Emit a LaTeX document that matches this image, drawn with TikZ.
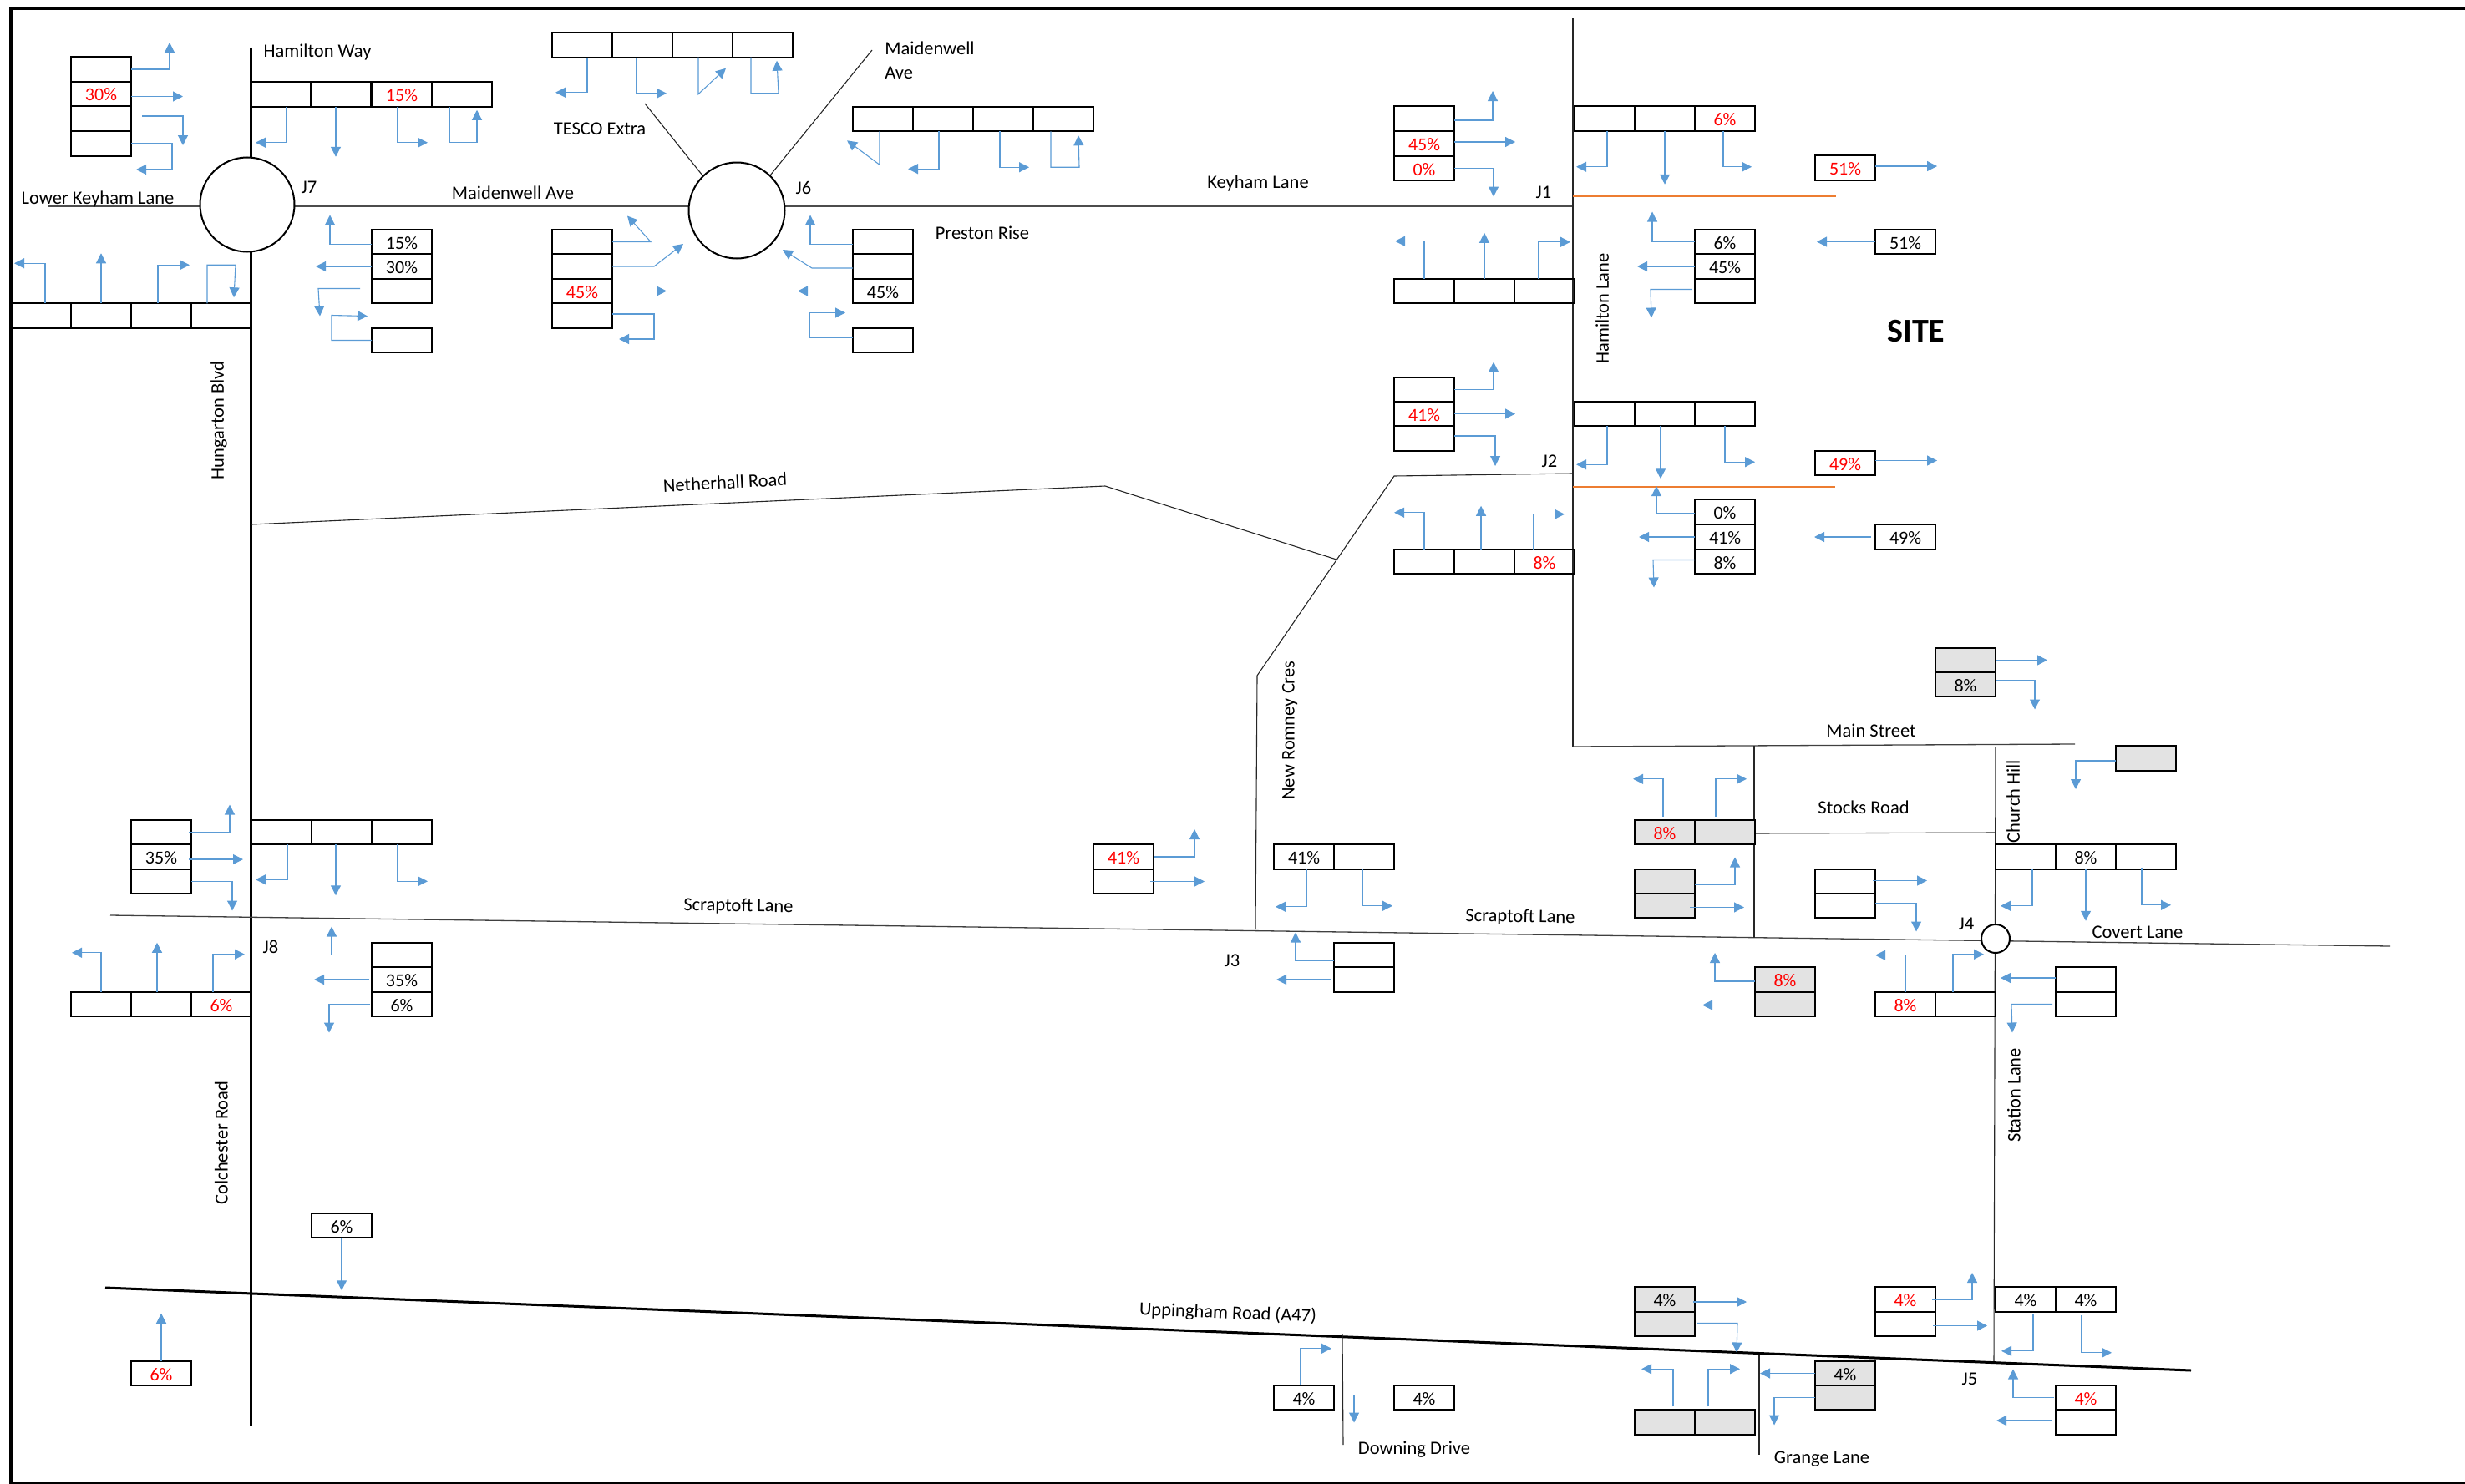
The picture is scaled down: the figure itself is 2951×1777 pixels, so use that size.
\documentclass[tikz,border=0pt]{standalone}
\usepackage{fontspec}
\setmainfont{Carlito}
\usetikzlibrary{arrows.meta}
\definecolor{flowblue}{HTML}{5B9BD5}
\definecolor{siteorange}{HTML}{ED7D31}
\definecolor{cellgrey}{HTML}{E3E3E3}
\definecolor{pctred}{HTML}{FF0000}
\tikzset{
  cell/.style={draw=black, line width=2.4pt, minimum width=72pt, minimum height=29.5pt, inner sep=0pt, outer sep=0pt, text height=17pt, text depth=0pt},
  cellg/.style={cell, fill=cellgrey},
  red/.style={text=pctred},
  flow/.style={draw=flowblue, line width=1.1pt, -{Triangle[length=12pt, width=12pt]}},
  road/.style={draw=black!85, line width=1.1pt},
  mainroad/.style={draw=black, line width=3pt},
  lbl/.style={text=black, inner sep=0pt, yshift=-1.5pt, font=\fontsize{22.5}{29}\selectfont},
  junction/.style={circle, draw=black, line width=2pt, fill=white, inner sep=0pt}
}
\begin{document}
\begin{tikzpicture}[x=1pt, y=-1pt, line cap=butt, line join=miter, every node/.append style={font=\fontsize{22}{29}\selectfont}]
  \useasboundingbox (0,0) rectangle (2951,1777);

  % Frame
  \coordinate (frameb) at (13,1777);
  \coordinate (framec) at (13,10);
  \coordinate (framer) at (2951,10);
  \coordinate (bottoml) at (13,1776);
  \coordinate (bottomr) at (2951,1776);
  \draw[line width=4pt] (frameb) -- (framec) -- (framer);
  \draw[line width=2pt] (bottoml) -- (bottomr);

  % Roads
  \draw[road, draw=black!70, line width=1.5pt] (57,247) -- (1883,247);
  \draw[mainroad] (300,57) -- (300,1707);
  \draw[road] (1883,22) -- (1883,894);
  \draw[road] (301,628) -- (1323,582) -- (1600,670);
  \draw[road] (1882,567) -- (1669,570) -- (1505,809) -- (1503,1113);
  \draw[road, draw=black!75, line width=1.3pt] (132,1096) -- (2861,1133);
  \draw[road, draw=black!75, line width=1.3pt] (1883,894) -- (2484,891);
  \draw[road] (2100,893) -- (2100,1123);
  \draw[road] (2101,998) -- (2389,997);
  \draw[road] (2389,895) -- (2387,1632);
  \draw[mainroad] (126,1542) -- (2623,1641);
  \draw[road] (1607,1597) -- (1608,1730);
  \draw[road] (2106,1622) -- (2106,1742);
  \draw[road] (772,124) -- (841,210);
  \draw[road] (922,210) -- (1044,60);
  \draw[siteorange, line width=2.8pt] (1883,235) -- (2198,235);
  \draw[siteorange, line width=2.8pt] (1883,583) -- (2197,583);

  % Junctions
  \node[junction, minimum size=113pt] (jseven) at (296,245) {};
  \node[junction, minimum size=115pt] (jsix) at (882,252) {};
  \node[junction, minimum size=34pt] (jfour) at (2389,1124) {};

  % Road names
  \node[lbl] (hamiltonway) at (380,61) {Hamilton Way};
  \node[lbl] (tescoextra) at (718,153) {TESCO Extra};
  \node[lbl, align=left] (maidenwelltop) at (1113,71) {Maidenwell\\Ave};
  \node[lbl] (jsevenlbl) at (370,223) {J7};
  \node[lbl] (jsixlbl) at (962,223) {J6};
  \node[lbl] (maidenwellave) at (614,229) {Maidenwell Ave};
  \node[lbl] (lowerkeyham) at (117,237) {Lower Keyham Lane};
  \node[lbl] (keyhamlane) at (1506,218) {Keyham Lane};
  \node[lbl] (prestonrise) at (1176,277) {Preston Rise};
  \node[lbl, rotate=90] (hungarton) at (262,502) {Hungarton Blvd};
  \node[lbl, rotate=3] (netherhall) at (868,576) {Netherhall Road};
  \node[lbl, rotate=90] (hamiltonlane) at (1918,368) {Hamilton Lane};
  \node[lbl, font=\fontsize{40}{42}\selectfont\bfseries] (site) at (2294,395) {SITE};
  \node[lbl] (jonelbl) at (1848,229) {J1};
  \node[lbl] (jtwolbl) at (1855,551) {J2};
  \node[lbl] (mainstreet) at (2240,873) {Main Street};
  \node[lbl] (stocksroad) at (2231,965) {Stocks Road};
  \node[lbl, rotate=90] (churchhill) at (2410,958) {Church Hill};
  \node[lbl] (covertlane) at (2559,1115) {Covert Lane};
  \node[lbl] (jfourlbl) at (2354,1105) {J4};
  \node[lbl, rotate=-1] (scraptoftw) at (884,1084) {Scraptoft Lane};
  \node[lbl, rotate=-1] (scraptofte) at (1820,1097) {Scraptoft Lane};
  \node[lbl] (jeightlbl) at (324,1132) {J8};
  \node[lbl] (jthreelbl) at (1475,1149) {J3};
  \node[lbl, rotate=90] (newromney) at (1544,873) {New Romney Cres};
  \node[lbl, rotate=90] (colchester) at (265,1367) {Colchester Road};
  \node[lbl, rotate=90] (stationlane) at (2411,1310) {Station Lane};
  \node[lbl, rotate=-2.3] (uppingham) at (1470,1571) {Uppingham Road (A47)};
  \node[lbl] (downing) at (1693,1734) {Downing Drive};
  \node[lbl] (grangelane) at (2181,1746) {Grange Lane};
  \node[lbl] (jfivelbl) at (2358,1650) {J5};

  % J7 cells
  \node[cell] (j7wa) at (121,83) {};
  \node[cell, red] (j7wb) at (121,112.5) {30\%};
  \node[cell] (j7wc) at (121,142) {};
  \node[cell] (j7wd) at (121,172) {};
  \node[cell] (j7na) at (336,113) {};
  \node[cell] (j7nb) at (408,113) {};
  \node[cell, red] (j7nc) at (481,113) {15\%};
  \node[cell] (j7nd) at (553,113) {};
  \node[cell] (j7ea) at (481,289.5) {15\%};
  \node[cell] (j7eb) at (481,319) {30\%};
  \node[cell] (j7ec) at (481,348.5) {};
  \node[cell] (j7ed) at (481,407.5) {};
  \node[cell] (j7sa) at (49,378) {};
  \node[cell] (j7sb) at (121,378) {};
  \node[cell] (j7sc) at (193,378) {};
  \node[cell] (j7sd) at (265,378) {};

  % J6 cells
  \node[cell] (j6ta) at (697,54) {};
  \node[cell] (j6tb) at (769,54) {};
  \node[cell] (j6tc) at (841,54) {};
  \node[cell] (j6td) at (913,54) {};
  \node[cell] (j6na) at (1057,142.5) {};
  \node[cell] (j6nb) at (1129,142.5) {};
  \node[cell] (j6nc) at (1201,142.5) {};
  \node[cell] (j6nd) at (1273,142.5) {};
  \node[cell] (j6ea) at (1057,289.5) {};
  \node[cell] (j6eb) at (1057,319) {};
  \node[cell] (j6ec) at (1057,348.5) {45\%};
  \node[cell] (j6ed) at (1057,407.5) {};
  \node[cell] (j6wa) at (697,289.5) {};
  \node[cell] (j6wb) at (697,319) {};
  \node[cell, red] (j6wc) at (697,348.5) {45\%};
  \node[cell] (j6wd) at (697,378) {};

  % J1 cells
  \node[cell] (j1wa) at (1705,142) {};
  \node[cell, red] (j1wb) at (1705,172) {45\%};
  \node[cell, red] (j1wc) at (1705,201.5) {0\%};
  \node[cell] (j1na) at (1921,142) {};
  \node[cell] (j1nb) at (1993,142) {};
  \node[cell, red] (j1nc) at (2065,142) {6\%};
  \node[cell, red] (j1out) at (2209,201) {51\%};
  \node[cell] (j1sa) at (1705,348.5) {};
  \node[cell] (j1sb) at (1777,348.5) {};
  \node[cell] (j1sc) at (1849,348.5) {};
  \node[cell] (j1ea) at (2065,289.5) {6\%};
  \node[cell] (j1eb) at (2065,319) {45\%};
  \node[cell] (j1ec) at (2065,348.5) {};
  \node[cell] (j1in) at (2281,289.5) {51\%};

  % J2 cells
  \node[cell] (j2wa) at (1705,466.5) {};
  \node[cell, red] (j2wb) at (1705,495.5) {41\%};
  \node[cell] (j2wc) at (1705,525) {};
  \node[cell] (j2na) at (1921,495.5) {};
  \node[cell] (j2nb) at (1993,495.5) {};
  \node[cell] (j2nc) at (2065,495.5) {};
  \node[cell, red] (j2out) at (2209,554.5) {49\%};
  \node[cell] (j2ea) at (2065,613) {0\%};
  \node[cell] (j2eb) at (2065,643) {41\%};
  \node[cell] (j2ec) at (2065,672.5) {8\%};
  \node[cell] (j2in) at (2281,643) {49\%};
  \node[cell] (j2sa) at (1705,672.5) {};
  \node[cell] (j2sb) at (1777,672.5) {};
  \node[cell, red] (j2sc) at (1849,672.5) {8\%};

  % J8 cells
  \node[cell] (j8wa) at (193,996.5) {};
  \node[cell] (j8wb) at (193,1026) {35\%};
  \node[cell] (j8wc) at (193,1055.5) {};
  \node[cell] (j8na) at (337,996.5) {};
  \node[cell] (j8nb) at (409,996.5) {};
  \node[cell] (j8nc) at (481,996.5) {};
  \node[cell] (j8sa) at (121,1202.5) {};
  \node[cell] (j8sb) at (193,1202.5) {};
  \node[cell, red] (j8sc) at (265,1202.5) {6\%};
  \node[cell] (j8ea) at (481,1143.5) {};
  \node[cell] (j8eb) at (481,1173) {35\%};
  \node[cell] (j8ec) at (481,1202.5) {6\%};

  % J3 cells
  \node[cell, red] (j3wa) at (1345,1026) {41\%};
  \node[cell] (j3wb) at (1345,1055.5) {};
  \node[cell] (j3na) at (1561,1026) {41\%};
  \node[cell] (j3nb) at (1633,1026) {};
  \node[cell] (j3ea) at (1633,1143.5) {};
  \node[cell] (j3eb) at (1633,1173) {};

  % J4 cells
  \node[cellg] (j4ta) at (2353,790.5) {};
  \node[cellg] (j4tb) at (2353,819.5) {8\%};
  \node[cellg] (j4chill) at (2569,908) {};
  \node[cellg, red] (j4sa) at (1993,996.5) {8\%};
  \node[cellg] (j4sb) at (2065,996.5) {};
  \node[cellg] (j4ga) at (1993,1055.5) {};
  \node[cellg] (j4gb) at (1993,1084.5) {};
  \node[cell] (j4wa) at (2209,1055.5) {};
  \node[cell] (j4wb) at (2209,1084.5) {};
  \node[cell] (j4na) at (2425,1026) {};
  \node[cell] (j4nb) at (2497,1026) {8\%};
  \node[cell] (j4nc) at (2569,1026) {};
  \node[cellg, red] (j4la) at (2137,1173) {8\%};
  \node[cellg] (j4lb) at (2137,1202.5) {};
  \node[cell, red] (j4ba) at (2281,1202.5) {8\%};
  \node[cell] (j4bb) at (2353,1202.5) {};
  \node[cell] (j4ea) at (2497,1173) {};
  \node[cell] (j4eb) at (2497,1202.5) {};

  % J5 cells
  \node[cellg] (j5ga) at (1993,1556) {4\%};
  \node[cellg] (j5gb) at (1993,1585.5) {};
  \node[cell, red] (j5wa) at (2281,1556) {4\%};
  \node[cell] (j5wb) at (2281,1585.5) {};
  \node[cell] (j5na) at (2425,1556) {4\%};
  \node[cell] (j5nb) at (2497,1556) {4\%};
  \node[cellg] (j5sa) at (1993,1703) {};
  \node[cellg] (j5sb) at (2065,1703) {};
  \node[cellg] (j5la) at (2209,1644.5) {4\%};
  \node[cellg] (j5lb) at (2209,1673.5) {};
  \node[cell, red] (j5ea) at (2497,1673.5) {4\%};
  \node[cell] (j5eb) at (2497,1703) {};

  % Downing Drive and Colchester Road cells
  \node[cell] (ddwest) at (1561,1673.5) {4\%};
  \node[cell] (ddeast) at (1705,1673.5) {4\%};
  \node[cell] (crnorth) at (409,1467.5) {6\%};
  \node[cell, red] (crsouth) at (193,1644.5) {6\%};

  % J7 flows
  \draw[flow] (j7wa.east) -- ++(46,0) -- ++(0,-32);
  \draw[flow] ([yshift=-3pt]j7wb.east) -- ++(62,0);
  \draw[flow] ([shift={(13pt,3pt)}]j7wc.east) -- ++(49,0) -- ++(0,35);
  \draw[flow] (j7wd.east) -- ++(49,0) -- ++(0,31) -- ++(-43,0);
  \draw[flow] ([xshift=7pt]j7na.south) -- ++(0,43) -- ++(-37,0);
  \draw[flow] ([xshift=-6pt]j7nb.south) -- ++(0,60);
  \draw[flow] ([xshift=-5pt]j7nc.south) -- ++(0,43) -- ++(36,0);
  \draw[flow] ([xshift=-15pt]j7nd.south) -- ++(0,43) -- ++(33,0) -- ++(0,-39);
  \draw[flow] ([yshift=-3pt]j7ea.west) -- ++(-50,0) -- ++(0,-35);
  \draw[flow] (j7eb.west) -- ++(-67,0);
  \draw[flow] ([shift={(-14pt,3pt)}]j7ec.west) -- ++(-50,0) -- ++(2,33);
  \draw[flow] (j7ed.west) -- ++(-48,0) -- ++(0,-30) -- ++(43,1);
  \draw[flow] ([xshift=5pt]j7sa.north) -- ++(0,-48) -- ++(-37,0);
  \draw[flow] (j7sb.north) -- ++(0,-60);
  \draw[flow] ([xshift=-4pt]j7sc.north) -- ++(0,-46) -- ++(38,0);
  \draw[flow] ([xshift=-17pt]j7sd.north) -- ++(0,-46) -- ++(34,0) -- ++(-2,39);

  % J6 flows
  \draw[flow] ([xshift=6pt]j6ta.south) -- ++(0,42) -- ++(-38,0);
  \draw[flow] ([xshift=-7pt]j6tb.south) -- ++(0,43) -- ++(36,0);
  \draw[flow] ([xshift=-5pt]j6tc.south) -- ++(0,44) -- ++(33,-31);
  \draw[flow] ([xshift=-14pt]j6td.south) -- ++(0,43) -- ++(33,0) -- ++(-2,-39);
  \draw[flow] ([xshift=-4pt]j6na.south) -- ++(0,40) -- ++(-39,-29);
  \draw[flow] ([xshift=-5pt]j6nb.south) -- ++(0,45) -- ++(-37,0);
  \draw[flow] ([xshift=-4pt]j6nc.south) -- ++(0,43) -- ++(35,0);
  \draw[flow] ([xshift=-15pt]j6nd.south) -- ++(0,43) -- ++(34,0) -- ++(-1,-38);
  \draw[flow] ([yshift=-3pt]j6ea.west) -- ++(-51,0) -- ++(0,-35);
  \draw[flow] ([yshift=-2pt]j6eb.west) -- ++(-49,0) -- ++(-35,-22);
  \draw[flow] (j6ec.west) -- ++(-66,0);
  \draw[flow] ([yshift=3pt]j6ed.west) -- ++(-52,0) -- ++(0,-30) -- ++(43,0);
  \draw[flow] (j6wa.east) -- ++(46,0) -- ++(-28,-31);
  \draw[flow] (j6wb.east) -- ++(50,0) -- ++(35,-27);
  \draw[flow] (j6wc.east) -- ++(65,0);
  \draw[flow] ([yshift=2pt]j6wd.east) -- ++(50,0) -- ++(0,30) -- ++(-42,0);

  % J1 flows
  \draw[flow] ([yshift=-2pt]j1wa.east) -- ++(46,0) -- ++(0,-35);
  \draw[flow] ([yshift=2pt]j1wb.east) -- ++(73,0);
  \draw[flow] (j1wc.east) -- ++(47,0) -- ++(0,34);
  \draw[flow] ([xshift=3pt]j1na.south) -- ++(0,43) -- ++(-37,0);
  \draw[flow] (j1nb.south) -- ++(0,64);
  \draw[flow] ([xshift=-2pt]j1nc.south) -- ++(0,43) -- ++(34,0);
  \draw[flow] ([yshift=2pt]j1out.east) -- ++(74,0);
  \draw[flow] (j1sa.north) -- ++(0,-45) -- ++(-35,0);
  \draw[flow] (j1sb.north) -- ++(0,-55);
  \draw[flow] ([xshift=-7pt]j1sc.north) -- ++(0,-44) -- ++(38,0);
  \draw[flow] (j1ea.west) -- ++(-51,0) -- ++(0,-36);
  \draw[flow] (j1eb.west) -- ++(-69,0);
  \draw[flow] ([shift={(-4pt,2pt)}]j1ec.west) -- ++(-49,0) -- ++(1,34);
  \draw[flow] (j1in.west) -- ++(-70,0);

  % J2 flows
  \draw[flow] (j2wa.east) -- ++(47,0) -- ++(0,-33);
  \draw[flow] (j2wb.east) -- ++(73,0);
  \draw[flow] ([yshift=3pt]j2wc.east) -- ++(49,0) -- ++(0,36);
  \draw[flow] ([xshift=3pt]j2na.south) -- ++(0,46) -- ++(-37,0);
  \draw[flow] ([xshift=-5pt]j2nb.south) -- ++(0,63);
  \draw[flow] (j2nc.south) -- ++(0,43) -- ++(36,0);
  \draw[flow] ([yshift=3pt]j2out.east) -- ++(74,0);
  \draw[flow] ([yshift=-2pt]j2ea.west) -- ++(-46,0) -- ++(0,-33);
  \draw[flow] (j2eb.west) -- ++(-67,0);
  \draw[flow] ([yshift=2pt]j2ec.west) -- ++(-50,0) -- ++(1,33);
  \draw[flow] ([xshift=-5pt]j2in.west) -- ++(-68,0);
  \draw[flow] (j2sa.north) -- ++(0,-44) -- ++(-36,0);
  \draw[flow] ([xshift=-4pt]j2sb.north) -- ++(0,-52);
  \draw[flow] ([xshift=-13pt]j2sc.north) -- ++(0,-42) -- ++(37,0);

  % J8 flows
  \draw[flow] ([xshift=-3pt]j8wa.east) -- ++(49,0) -- ++(0,-33);
  \draw[flow] ([shift={(-3pt,-3pt)}]j8wb.east) -- ++(65,0);
  \draw[flow] (j8wc.east) -- ++(49,0) -- ++(0,35);
  \draw[flow] ([xshift=7pt]j8na.south) -- ++(0,42) -- ++(-38,0);
  \draw[flow] ([xshift=-7pt]j8nb.south) -- ++(0,61);
  \draw[flow] ([xshift=-5pt]j8nc.south) -- ++(0,44) -- ++(36,0);
  \draw[flow] (j8sa.north) -- ++(0,-47) -- ++(-35,0);
  \draw[flow] ([xshift=-5pt]j8sb.north) -- ++(0,-59);
  \draw[flow] ([xshift=-10pt]j8sc.north) -- ++(0,-45) -- ++(38,0);
  \draw[flow] (j8ea.west) -- ++(-48,0) -- ++(0,-34);
  \draw[flow] ([xshift=-3pt]j8eb.west) -- ++(-66,0);
  \draw[flow] ([xshift=-2pt]j8ec.west) -- ++(-49,0) -- ++(0,34);

  % J3 flows
  \draw[flow] (j3wa.east) -- ++(49,0) -- ++(0,-33);
  \draw[flow] ([xshift=-4pt]j3wb.east) -- ++(65,0);
  \draw[flow] ([xshift=3pt]j3na.south) -- ++(0,45) -- ++(-37,0);
  \draw[flow] ([xshift=-2pt]j3nb.south) -- ++(0,44) -- ++(36,0);
  \draw[flow] ([yshift=-7pt]j3ea.west) -- ++(-46,0) -- ++(0,-34);
  \draw[flow] ([xshift=-3pt]j3eb.west) -- ++(-66,0);

  % J4 flows
  \draw[flow] (j4ta.east) -- ++(62,0);
  \draw[flow] ([yshift=5pt]j4tb.east) -- ++(47,0) -- ++(0,35);
  \draw[flow] ([yshift=-3pt]j4chill.west) -- ++(-48,0) -- ++(0,34);
  \draw[flow] ([shift={(-2pt,4pt)}]j4sa.north) -- ++(0,-45) -- ++(-36,0);
  \draw[flow] ([shift={(-11pt,4pt)}]j4sb.north) -- ++(0,-45) -- ++(37,0);
  \draw[flow] ([yshift=-4pt]j4ga.east) -- ++(48,0) -- ++(0,-33);
  \draw[flow] ([shift={(-6pt,-2pt)}]j4gb.east) -- ++(65,0);
  \draw[flow] ([shift={(-3pt,1pt)}]j4wa.east) -- ++(65,0);
  \draw[flow] ([yshift=3pt]j4wb.east) -- ++(49,0) -- ++(0,34);
  \draw[flow] ([xshift=8pt]j4na.south) -- ++(0,44) -- ++(-38,0);
  \draw[flow] (j4nb.south) -- ++(0,62);
  \draw[flow] ([shift={(-5pt,2pt)}]j4nc.south) -- ++(0,45) -- ++(35,0);
  \draw[flow] ([yshift=-2pt]j4la.west) -- ++(-48,0) -- ++(0,-34);
  \draw[flow] ([shift={(2pt,-1pt)}]j4lb.west) -- ++(-65,0);
  \draw[flow] (j4ba.north) -- ++(0,-44) -- ++(-36,0);
  \draw[flow] ([xshift=-15pt]j4bb.north) -- ++(0,-45) -- ++(37,0);
  \draw[flow] ([yshift=2pt]j4ea.west) -- ++(-66,0);
  \draw[flow] ([xshift=-4pt]j4eb.west) -- ++(-49,0) -- ++(1,34);

  % J5 flows
  \draw[flow] ([shift={(-2pt,-3pt)}]j5ga.east) -- ++(64,0);
  \draw[flow] ([shift={(2pt,1pt)}]j5gb.east) -- ++(49,0) -- ++(-1,35);
  \draw[flow] ([xshift=-4pt]j5wa.east) -- ++(48,0) -- ++(0,-32);
  \draw[flow] ([shift={(-3pt,-2pt)}]j5wb.east) -- ++(65,0);
  \draw[flow] ([shift={(9pt,-3pt)}]j5na.south) -- ++(0,44) -- ++(-38,0);
  \draw[flow] ([shift={(-5pt,-4pt)}]j5nb.south) -- ++(0,45) -- ++(36,0);
  \draw[flow] ([shift={(10pt,4pt)}]j5sa.north) -- ++(0,-45) -- ++(-38,0);
  \draw[flow] ([shift={(-20pt,4pt)}]j5sb.north) -- ++(0,-45) -- ++(38,0);
  \draw[flow] (j5la.west) -- ++(-66,0);
  \draw[flow] (j5lb.west) -- ++(-49,0) -- ++(0,33);
  \draw[flow] ([xshift=-2pt]j5ea.west) -- ++(-49,0) -- ++(0,-34);
  \draw[flow] ([shift={(-4pt,2pt)}]j5eb.west) -- ++(-67,0);

  % Downing Drive and Colchester Road flows
  \draw[flow] ([xshift=-4pt]ddwest.north) -- ++(0,-44) -- ++(37,0);
  \draw[flow] ([yshift=3pt]ddeast.west) -- ++(-48,0) -- ++(0,33);
  \draw[flow] (crnorth.south) -- ++(0,63);
  \draw[flow] (crsouth.north) -- ++(0,-57);
\end{tikzpicture}
\end{document}
